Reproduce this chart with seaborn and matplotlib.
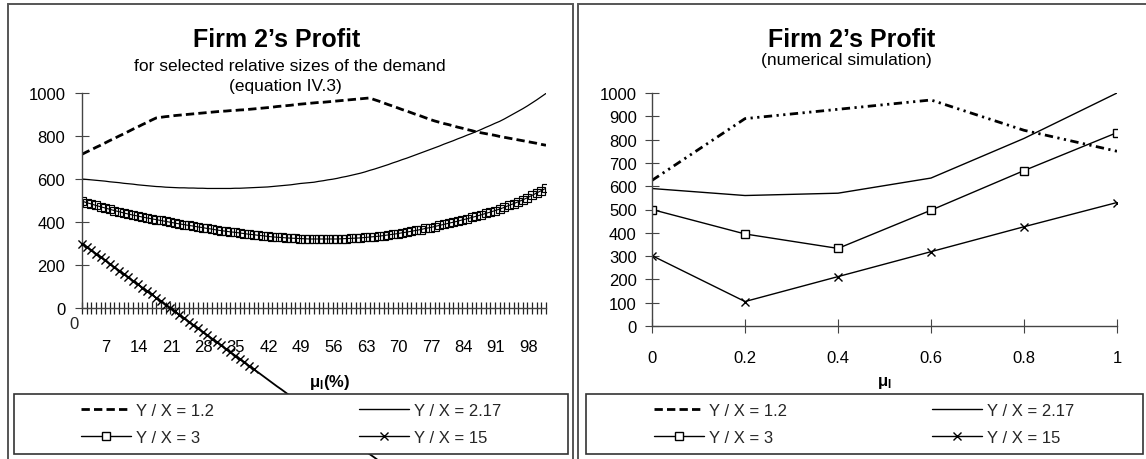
import matplotlib
matplotlib.use("Agg")
import matplotlib.pyplot as plt
from matplotlib.lines import Line2D
from matplotlib.patches import Rectangle
import seaborn as sns

# ---- data -------------------------------------------------------------
# equation IV.3: firm 2's profit against mu_l (in %), one value per percent
mu_pct = list(range(101))

profit_12 = [715, 726, 736, 747, 757, 768, 779, 789, 800, 810,
             821, 832, 842, 853, 863, 874, 884, 887, 890, 892,
             895, 897, 899, 901, 903, 905, 907, 909, 911, 913,
             915, 916, 918, 919, 921, 922, 924, 926, 928, 930,
             932, 934, 937, 939, 941, 943, 946, 948, 950, 952,
             954, 956, 957, 959, 961, 963, 965, 967, 969, 971,
             973, 975, 977, 969, 962, 954, 946, 939, 931, 923,
             916, 908, 900, 893, 885, 877, 870, 864, 858, 853,
             847, 841, 836, 830, 825, 819, 815, 811, 807, 803,
             798, 794, 790, 786, 782, 778, 774, 770, 766, 761, 757]

profit_217 = [600, 598, 596, 594, 592, 590, 587, 585, 583, 580,
              578, 576, 573, 571, 569, 567, 565, 564, 562, 561,
              560, 559, 559, 558, 558, 557, 557, 556, 556, 556,
              556, 556, 556, 557, 557, 558, 559, 560, 561, 562,
              563, 565, 567, 569, 571, 573, 576, 579, 581, 583,
              585, 589, 592, 596, 599, 603, 608, 612, 617, 622,
              627, 633, 640, 646, 653, 660, 667, 675, 682, 690,
              697, 705, 713, 721, 729, 737, 745, 753, 762, 770,
              778, 787, 795, 804, 812, 821, 830, 840, 849, 859,
              868, 879, 891, 903, 915, 927, 940, 954, 968, 983, 998]

profit_3 = [497, 490, 484, 477, 471, 465, 459, 453, 448, 442,
            437, 432, 428, 423, 419, 415, 411, 407, 403, 399,
            395, 391, 388, 384, 381, 377, 374, 370, 367, 363,
            360, 357, 354, 352, 349, 346, 343, 341, 338, 336,
            333, 331, 329, 328, 326, 325, 324, 323, 322, 321,
            321, 321, 321, 321, 321, 321, 322, 323, 324, 325,
            326, 328, 330, 332, 334, 337, 340, 343, 346, 350,
            353, 357, 361, 365, 370, 374, 379, 384, 389, 394,
            399, 404, 410, 415, 421, 427, 433, 440, 446, 453,
            460, 468, 477, 485, 494, 503, 513, 524, 535, 546, 557]

profit_15 = [300, 284, 268, 253, 237, 221, 205, 189, 174, 158,
             142, 126, 110, 95, 79, 63, 47, 31, 16, 0,
             -16, -32, -48, -63, -79, -95, -111, -127, -142, -158,
             -174, -190, -206, -221, -237, -253, -269, -285, -300, -316,
             -332, -348, -364, -379, -395, -411, -427, -443, -458, -474,
             -490, -506, -522, -537, -553, -569, -585, -601, -616, -632,
             -648, -664, -680, -695, -711, -727, -743, -759, -774, -790,
             -806, -822, -838, -853, -869, -885, -901, -917, -932, -948,
             -964, -980, -996, -1011, -1027, -1043, -1059, -1075, -1090, -1106,
             -1122, -1138, -1154, -1169, -1185, -1201, -1217, -1233, -1248, -1264, -1280]

# numerical simulation
mu_sim = [0, 0.2, 0.4, 0.6, 0.8, 1.0]
sim_12 = [625, 890, 930, 970, 840, 750]
sim_217 = [590, 560, 570, 635, 805, 1000]
sim_3 = [500, 395, 333, 497, 667, 830]
sim_15 = [302, 105, 212, 319, 426, 530]

series_labels = ["Y / X = 1.2", "Y / X = 2.17", "Y / X = 3", "Y / X = 15"]
pct_tick_labels = [0, 7, 14, 21, 28, 35, 42, 49, 56, 63, 70, 77, 84, 91, 98]
sim_tick_labels = ["0", "0.2", "0.4", "0.6", "0.8", "1"]

# ---- style ------------------------------------------------------------
sns.set_theme(style="white")
plt.rcParams["font.family"] = ["Liberation Sans", "DejaVu Sans"]
plt.rcParams["mathtext.fontset"] = "custom"
plt.rcParams["mathtext.rm"] = "Liberation Sans"
plt.rcParams["mathtext.bf"] = "Liberation Sans:bold"
plt.rcParams["mathtext.it"] = "Liberation Sans:italic"

W, H = 1146, 460
INK = "black"
AXC = "#444444"
FS = 12

fig = plt.figure(figsize=(W / 100, H / 100), dpi=100)
fig.patch.set_facecolor("white")


def px_box(x0, y0, x1, y1):
    return [x0 / W, 1 - y1 / H, (x1 - x0) / W, (y1 - y0) / H]


# panel frames
for x0, x1 in [(7.5, 573), (578, 1150)]:
    fig.add_artist(Rectangle((x0 / W, 1 - 470 / H), (x1 - x0) / W, (470 - 5) / H,
                             transform=fig.transFigure, fill=False,
                             edgecolor="#555555", linewidth=1.4, zorder=1))

axL = fig.add_axes(px_box(82, 94, 546, 309))
axR = fig.add_axes(px_box(652, 94, 1117, 327))

dash_12 = (0, (3, 1.5))
dash_sim = (0, (3, 1.6, 0.8, 1.6, 0.8, 1.6))

# ---- left panel: equation IV.3 ------------------------------------------
sns.lineplot(x=mu_pct, y=profit_12, ax=axL, color=INK, linewidth=2.0,
             linestyle=dash_12, legend=False)
sns.lineplot(x=mu_pct, y=profit_217, ax=axL, color=INK, linewidth=0.9, legend=False)
sns.lineplot(x=mu_pct, y=profit_3, ax=axL, color=INK, linewidth=0.8, marker="s",
             markersize=6, markerfacecolor="none", markeredgecolor=INK,
             markeredgewidth=0.85, legend=False)
sns.lineplot(x=mu_pct, y=profit_15, ax=axL, color=INK, linewidth=1.3,
             legend=False, clip_on=False)
# markers of the steep series are only drawn inside the plot area's floor
floor = -300
mk_x = [m for m, v in zip(mu_pct, profit_15) if v > floor]
mk_y = [v for v in profit_15 if v > floor]
sns.scatterplot(x=mk_x, y=mk_y, ax=axL, marker="x", s=34, color=INK,
                linewidth=1.0, legend=False, clip_on=False, zorder=3)

axL.set_xlim(0, 100)
axL.set_ylim(0, 1000)
axL.set_yticks(range(0, 1001, 200))
label_shift = -1.8
axL.set_xticks([v + label_shift for v in pct_tick_labels[1:]])
axL.set_xticklabels([str(v) for v in pct_tick_labels[1:]])
axL.set_xticks(mu_pct, minor=True)
axL.tick_params(axis="x", which="major", bottom=True, length=0, pad=22,
                labelsize=FS, colors=INK)
axL.tick_params(axis="x", which="minor", bottom=True, direction="inout",
                length=9, width=0.9, color="#222222")
axL.tick_params(axis="y", left=True, direction="inout", length=10, width=0.8,
                color=AXC, pad=7, labelsize=FS, labelcolor=INK)
axL.annotate(str(pct_tick_labels[0]), xy=(pct_tick_labels[0] + label_shift, 0),
             xycoords=("data", "axes fraction"), xytext=(0, -5.5),
             textcoords="offset points", ha="center", va="top", fontsize=FS,
             annotation_clip=False)

# ---- right panel: numerical simulation ---------------------------------
sns.lineplot(x=mu_sim, y=sim_12, ax=axR, color=INK, linewidth=2.0,
             linestyle=dash_sim, legend=False)
sns.lineplot(x=mu_sim, y=sim_217, ax=axR, color=INK, linewidth=1.0, legend=False)
sns.lineplot(x=mu_sim, y=sim_3, ax=axR, color=INK, linewidth=1.0, marker="s",
             markersize=6, markerfacecolor="white", markeredgecolor=INK,
             markeredgewidth=1.0, legend=False)
sns.lineplot(x=mu_sim, y=sim_15, ax=axR, color=INK, linewidth=1.0, marker="x",
             markersize=6, markeredgewidth=1.0, markeredgecolor=INK, legend=False)

axR.set_xlim(0, 1)
axR.set_ylim(0, 1000)
axR.set_yticks(range(0, 1001, 100))
axR.set_xticks(mu_sim)
axR.set_xticklabels(sim_tick_labels)
axR.tick_params(axis="x", bottom=True, direction="inout", length=10, width=0.8,
                color=AXC, pad=12, labelsize=FS, labelcolor=INK)
axR.tick_params(axis="y", left=True, direction="inout", length=10, width=0.8,
                color=AXC, pad=6, labelsize=FS, labelcolor=INK)

for ax in (axL, axR):
    sns.despine(ax=ax)
    for side in ("left", "bottom"):
        ax.spines[side].set_color(AXC)
        ax.spines[side].set_linewidth(1.0)
    ax.set_xlabel("")
    ax.set_ylabel("")
    ax.patch.set_alpha(0)

# ---- titles and axis names ----------------------------------------------
def ftext(x, y, s, **kw):
    fig.text(x / W, 1 - y / H, s, ha="center", va="center", color=INK, **kw)


ftext(277, 40, "Firm 2\u2019s Profit", fontsize=18, fontweight="bold")
ftext(290, 67, "for selected relative sizes of the demand", fontsize=12.5)
ftext(285, 86, "(equation IV.3)", fontsize=12.5)
ftext(852, 40, "Firm 2\u2019s Profit", fontsize=18, fontweight="bold")
ftext(846, 60, "(numerical simulation)", fontsize=12.5)

ftext(330, 383, "\u03bc$_\\mathbf{l}$(%)", fontsize=FS, fontweight="bold")
ftext(884, 383, "\u03bc$_\\mathbf{l}$", fontsize=FS, fontweight="bold")

# ---- legends -----------------------------------------------------------
def handles(dash):
    return [
        Line2D([], [], color=INK, linewidth=2.0, linestyle=dash),
        Line2D([], [], color=INK, linewidth=1.0, marker="s", markersize=6,
               markerfacecolor="white", markeredgecolor=INK),
        Line2D([], [], color=INK, linewidth=1.0),
        Line2D([], [], color=INK, linewidth=1.0, marker="x", markersize=6,
               markeredgewidth=1.0),
    ]


legend_order = [series_labels[0], series_labels[2], series_labels[1], series_labels[3]]
for (x0, x1), dash in [((14, 568), (0, (3, 1.5))), ((586, 1143), (0, (3, 1.5)))]:
    y0, y1 = 395, 455
    fig.add_artist(Rectangle((x0 / W, 1 - y1 / H), (x1 - x0) / W, (y1 - y0) / H,
                             transform=fig.transFigure, facecolor="white",
                             edgecolor="#333333", linewidth=1.2, zorder=3))
    leg = fig.legend(handles(dash), legend_order, loc="center",
                     bbox_to_anchor=(((x0 + x1) / 2) / W, 1 - ((y0 + y1) / 2) / H),
                     ncol=2, frameon=False, fontsize=FS, handlelength=3.0,
                     handletextpad=0.3, columnspacing=8.7, labelspacing=0.75,
                     numpoints=1)
    leg.set_zorder(4)

fig.savefig("out.png", dpi=100, facecolor="white")
